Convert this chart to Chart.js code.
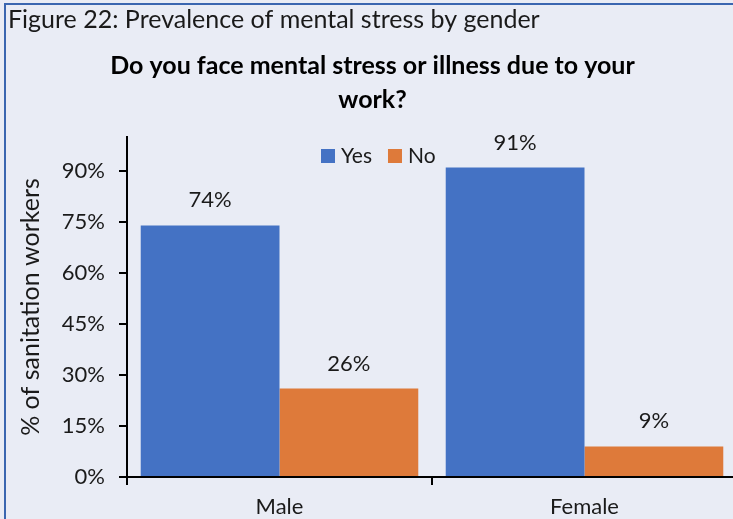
<!DOCTYPE html>
<html>
<head>
<meta charset="utf-8">
<script src="https://cdn.jsdelivr.net/npm/chart.js@4/dist/chart.umd.min.js"></script>
<style>
  html, body { margin: 0; padding: 0; overflow: hidden; background: #E9ECF5; }
  #wrap { position: relative; width: 745px; height: 519px; }
</style>
</head>
<body>
<div id="wrap"><canvas id="c" width="745" height="519"></canvas></div>
<script>
const categories = ['Male', 'Female'];
const seriesNames = ['Yes', 'No'];
const yesValues = [74, 91];
const noValues = [26, 9];
const yTickValues = [0, 15, 30, 45, 60, 75, 90];
const captionText = 'Figure 22: Prevalence of mental stress by gender';
const titleLines = ['Do you face mental stress or illness due to your', 'work?'];
const yAxisTitle = '% of sanitation workers';

const FONT = 'Lato, "Open Sans", sans-serif';
const TEXT = '#1a1a1a';

const bgPlugin = {
  id: 'bg',
  beforeDraw(chart) {
    const ctx = chart.ctx;
    ctx.save();
    ctx.fillStyle = '#E9ECF5';
    ctx.fillRect(0, 0, chart.width, chart.height);
    ctx.strokeStyle = '#3A66B0';
    ctx.lineWidth = 2;
    ctx.beginPath();
    ctx.moveTo(5, chart.height);
    ctx.lineTo(5, 4);
    ctx.lineTo(chart.width, 4);
    ctx.stroke();
    ctx.restore();
  }
};

const labelPlugin = {
  id: 'valueLabels',
  afterDatasetsDraw(chart) {
    const ctx = chart.ctx;
    ctx.save();
    ctx.font = '22px ' + FONT;
    ctx.fillStyle = TEXT;
    ctx.textAlign = 'center';
    ctx.textBaseline = 'middle';
    chart.data.datasets.forEach((ds, i) => {
      chart.getDatasetMeta(i).data.forEach((bar, j) => {
        ctx.fillText(ds.data[j] + '%', bar.x, bar.y - 25);
      });
    });
    ctx.restore();
  }
};

const legendPlugin = {
  id: 'customLegend',
  afterDraw(chart) {
    const ctx = chart.ctx;
    ctx.save();
    ctx.font = '21px ' + FONT;
    ctx.textBaseline = 'middle';
    let x = 321;
    const y = 156;
    chart.data.datasets.forEach((ds) => {
      ctx.fillStyle = ds.backgroundColor;
      ctx.fillRect(x, y - 7, 14, 14);
      ctx.fillStyle = TEXT;
      ctx.textAlign = 'left';
      ctx.fillText(ds.label, x + 20, y);
      x += 20 + ctx.measureText(ds.label).width + 16;
    });
    ctx.restore();
  }
};

new Chart(document.getElementById('c'), {
  type: 'bar',
  data: {
    labels: categories,
    datasets: [
      { label: seriesNames[0], data: yesValues, backgroundColor: '#4472C4' },
      { label: seriesNames[1], data: noValues, backgroundColor: '#DE7A3A' }
    ]
  },
  options: {
    responsive: false,
    animation: false,
    devicePixelRatio: 1,
    layout: { padding: { left: 8, right: 8, top: 0, bottom: 0 } },
    datasets: { bar: { barPercentage: 1, categoryPercentage: 0.91 } },
    plugins: {
      legend: { display: false },
      tooltip: { enabled: false },
      title: {
        display: true, text: captionText, align: 'start', color: TEXT,
        font: { family: FONT, size: 25, weight: 'normal', lineHeight: 1.2 },
        padding: { top: 5, bottom: 0 }
      },
      subtitle: {
        display: true, text: titleLines, align: 'center', color: '#000',
        font: { family: FONT, size: 25, weight: 'bold', lineHeight: 1.36 },
        padding: { top: 14, bottom: 20 }
      }
    },
    scales: {
      x: {
        afterFit(scale) { scale.height = 42; },
        grid: { drawOnChartArea: false, drawTicks: true, tickLength: 8, color: '#000', lineWidth: 2, offset: true },
        border: { display: true, color: '#000', width: 2 },
        ticks: { color: TEXT, font: { family: FONT, size: 22 }, padding: 9 }
      },
      y: {
        min: 0, max: 100,
        afterBuildTicks(scale) {
          scale.ticks = yTickValues.map(v => ({ value: v }));
        },
        afterFit(scale) { scale.width = 119; },
        grid: { drawOnChartArea: false, drawTicks: true, tickLength: 8, color: '#000', lineWidth: 2 },
        border: { display: true, color: '#000', width: 2 },
        ticks: { color: TEXT, font: { family: FONT, size: 22 }, padding: 14, callback: v => v + '%' },
        title: {
          display: true, text: yAxisTitle, color: TEXT,
          font: { family: FONT, size: 25 }, padding: { top: 8, bottom: 4 }
        }
      }
    }
  },
  plugins: [bgPlugin, labelPlugin, legendPlugin]
});
</script>
</body>
</html>
